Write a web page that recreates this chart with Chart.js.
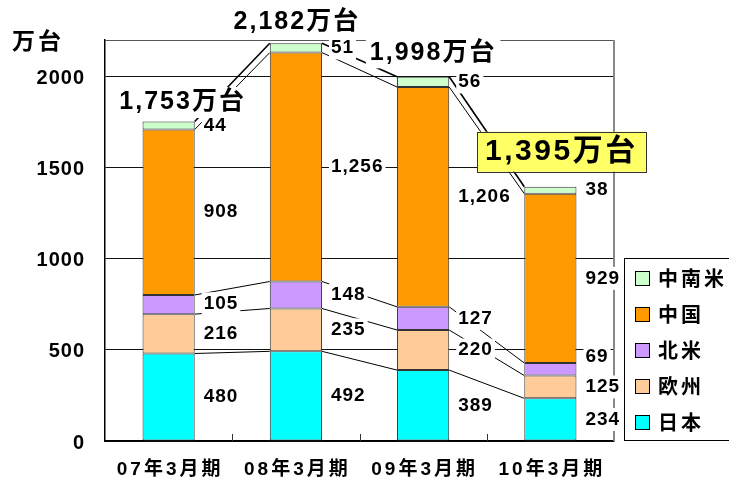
<!DOCTYPE html>
<html>
<head>
<meta charset="utf-8">
<script src="https://cdn.jsdelivr.net/npm/chart.js@4.4.1/dist/chart.umd.min.js"></script>
<style>
  html, body { margin: 0; padding: 0; background: #fff; }
  #wrap { width: 729px; height: 484px; }
</style>
</head>
<body>
<div id="wrap"><canvas id="salesChart" width="729" height="484"></canvas></div>
<script>
// data
const periods = ['07年3月期', '08年3月期', '09年3月期', '10年3月期'];
const japan = [480, 492, 389, 234];
const europe = [216, 235, 220, 125];
const northAmerica = [105, 148, 127, 69];
const china = [908, 1256, 1206, 929];
const latinAmerica = [44, 51, 56, 38];
const totals = [1753, 2182, 1998, 1395];
const yTicks = [0, 500, 1000, 1500, 2000];
const yMax = 2200;
const unitLabel = '万台';

const FONT = '"Liberation Sans", Arial, "Noto Sans CJK JP", sans-serif';
// where each total callout sits, relative to the top of its bar
const totalOffsets = [[13, -19], [0, -21], [9, -24], [10, -35]];

function fmt(v) { return v.toLocaleString('en-US'); }

function drawLine(ctx, x1, y1, x2, y2, color, width) {
    ctx.beginPath();
    ctx.moveTo(x1, y1);
    ctx.lineTo(x2, y2);
    ctx.strokeStyle = color;
    ctx.lineWidth = width;
    ctx.stroke();
}

function boxedText(ctx, text, x, y, align, pad, fill, stroke) {
    const w = ctx.measureText(text).width;
    const h = parseInt(ctx.font.match(/(\d+)px/)[1], 10);
    const left = align === 'left' ? x : x - w / 2;
    ctx.fillStyle = fill;
    ctx.fillRect(left - pad[0], y - h / 2 - pad[1], w + pad[0] * 2, h + pad[1] * 2);
    if (stroke) {
        ctx.strokeStyle = stroke;
        ctx.lineWidth = 1;
        ctx.strokeRect(Math.round(left - pad[0]) + 0.5, Math.round(y - h / 2 - pad[1]) + 0.5,
            Math.round(w + pad[0] * 2), Math.round(h + pad[1] * 2));
    }
    ctx.fillStyle = '#000';
    ctx.textAlign = 'left';
    ctx.fillText(text, left, y);
}

const decorations = {
    id: 'decorations',
    beforeDraw(chart) { chart.ctx.letterSpacing = '1px'; },
    beforeDatasetsDraw(chart) { chart.ctx.letterSpacing = '0px'; },
    afterDatasetsDraw(chart) {
        const { ctx, chartArea: a, scales: { x } } = chart;
        const metas = chart.data.datasets.map((d, i) => chart.getDatasetMeta(i));
        ctx.save();

        // right frame of the plot
        drawLine(ctx, a.right, a.top, a.right, a.bottom, '#888', 2);

        // small ticks between categories, pointing up
        for (let i = 1; i < periods.length; i++) {
            const px = Math.round((x.getPixelForValue(i - 1) + x.getPixelForValue(i)) / 2) + 0.5;
            drawLine(ctx, px, a.bottom, px, a.bottom - 7, '#333', 1);
        }

        // series lines between neighbouring bars
        metas.forEach((meta, k) => {
            for (let i = 0; i < meta.data.length - 1; i++) {
                const b0 = meta.data[i], b1 = meta.data[i + 1];
                drawLine(ctx, b0.x + b0.width / 2, b0.y, b1.x - b1.width / 2, b1.y, '#000',
                    k === metas.length - 1 ? 1.6 : 1);
            }
        });

        // category labels
        ctx.font = 'bold 19px ' + FONT;
        ctx.letterSpacing = '3px';
        ctx.textBaseline = 'middle';
        ctx.textAlign = 'center';
        ctx.fillStyle = '#000';
        periods.forEach((p, i) => ctx.fillText(p, x.getPixelForValue(i) + 1.5, 470));

        // value labels right of each segment
        ctx.font = 'bold 19px ' + FONT;
        ctx.letterSpacing = '1px';
        for (let i = 0; i < periods.length; i++) {
            let prev = null;
            metas.forEach((meta, k) => {
                const el = meta.data[i];
                const mid = (el.y + el.base) / 2;
                const yPos = prev === null ? mid : Math.min(mid, prev - 30);
                prev = yPos;
                const v = chart.data.datasets[k].data[i];
                boxedText(ctx, fmt(v), el.x + el.width / 2 + 9, yPos, 'left', [2, 2], '#fff');
            });
        }

        // totals
        const top = metas[metas.length - 1];
        totals.forEach((t, i) => {
            const el = top.data[i];
            const cx = el.x + totalOffsets[i][0];
            const cy = el.y + totalOffsets[i][1];
            if (i === totals.length - 1) {
                ctx.font = 'bold 30px ' + FONT;
                ctx.letterSpacing = '2.5px';
                boxedText(ctx, fmt(t) + unitLabel, cx + 1, cy, 'center', [8, 5], '#FFFF66', '#333');
            } else {
                ctx.font = 'bold 25px ' + FONT;
                ctx.letterSpacing = '2px';
                boxedText(ctx, fmt(t) + unitLabel, cx + 1, cy, 'center', [4, 3], '#fff');
            }
        });

        // legend
        ctx.letterSpacing = '0px';
        ctx.strokeStyle = '#000';
        ctx.lineWidth = 1;
        ctx.strokeRect(624.5, 258.5, 120, 182);
        ctx.font = 'bold 20px ' + FONT;
        ctx.letterSpacing = '3px';
        chart.data.datasets.slice().reverse().forEach((ds, j) => {
            const yc = 279 + j * 36;
            ctx.fillStyle = ds.backgroundColor;
            ctx.fillRect(635.5, yc - 7.5, 14, 14);
            ctx.strokeStyle = '#000';
            ctx.strokeRect(635.5, yc - 7.5, 14, 14);
            ctx.fillStyle = '#000';
            ctx.textAlign = 'left';
            ctx.fillText(ds.label, 658, yc + 1);
        });

        // unit title
        ctx.font = 'bold 23px ' + FONT;
        ctx.letterSpacing = '3px';
        ctx.fillText(unitLabel, 12, 43);

        ctx.restore();
    }
};

const ctx = document.getElementById('salesChart').getContext('2d');
new Chart(ctx, {
    type: 'bar',
    data: {
        labels: periods,
        datasets: [
            { label: '日本', data: japan, backgroundColor: '#00FFFF' },
            { label: '欧州', data: europe, backgroundColor: '#FFCC99' },
            { label: '北米', data: northAmerica, backgroundColor: '#CC99FF' },
            { label: '中国', data: china, backgroundColor: '#FF9900' },
            { label: '中南米', data: latinAmerica, backgroundColor: '#CCFFCC' }
        ].map(ds => Object.assign(ds, {
            borderColor: '#333',
            borderWidth: 1,
            borderSkipped: false,
            barPercentage: 0.41,
            categoryPercentage: 1
        }))
    },
    options: {
        responsive: false,
        animation: false,
        layout: { padding: { top: 40, right: 115, left: 0, bottom: 0 } },
        plugins: { legend: { display: false }, tooltip: { enabled: false } },
        scales: {
            x: {
                stacked: true,
                grid: { display: false },
                border: { display: true, color: '#000', width: 1.5 },
                ticks: { display: false },
                afterFit: scale => { scale.height = 43; }
            },
            y: {
                stacked: true,
                min: 0,
                max: yMax,
                afterBuildTicks: scale => {
                    scale.ticks = yTicks.concat([yMax]).map(v => ({ value: v }));
                },
                ticks: {
                    callback: v => (yTicks.includes(v) ? String(v) : ''),
                    color: '#000',
                    padding: 20,
                    labelOffset: 2,
                    font: { family: FONT, size: 20, weight: 'bold' }
                },
                grid: {
                    drawTicks: false,
                    color: c => (c.tick && c.tick.value === yMax ? '#555' : '#111'),
                    lineWidth: 1
                },
                border: { display: true, color: '#000', width: 1.5 },
                afterFit: scale => { scale.width = 105; }
            }
        }
    },
    plugins: [decorations]
});
</script>
</body>
</html>
